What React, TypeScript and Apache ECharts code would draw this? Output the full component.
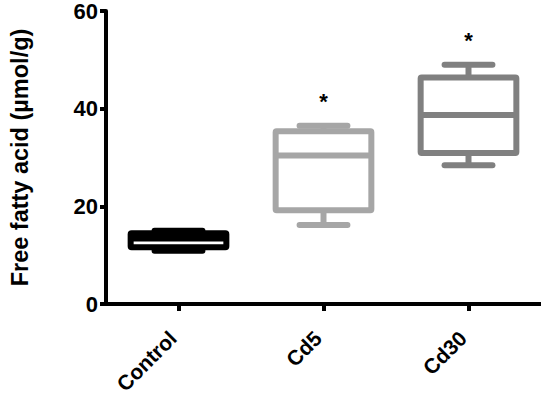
import React, { useEffect, useRef } from "react";
import * as echarts from "echarts";

const categories = ["Control", "Cd5", "Cd30"];
// [min, Q1, median, Q3, max]
const boxMin = [10.9, 16.2, 28.4];
const boxQ1 = [11.6, 19.2, 30.9];
const boxMedian = [13.4, 30.4, 38.7];
const boxQ3 = [14.5, 35.4, 46.4];
const boxMax = [15.0, 36.5, 49.0];
const significance = ["", "*", "*"];
const boxColors = ["#000000", "#a6a6a6", "#808080"];
const yTicks = { min: 0, max: 60, interval: 20 };

const FONT = "'Liberation Sans', Arial, sans-serif";

export default function App() {
  const ref = useRef<HTMLDivElement>(null);
  useEffect(() => {
    if (!ref.current) return;
    const chart = echarts.init(ref.current, null, { renderer: "svg" });
    const data = categories.map((_, i) => [i, boxMin[i], boxQ1[i], boxMedian[i], boxQ3[i], boxMax[i]]);
    chart.setOption({
      animation: false,
      backgroundColor: "#ffffff",
      grid: { left: 98, right: 0, top: 11, bottom: 98 },
      xAxis: {
        type: "category",
        data: categories,
        boundaryGap: true,
        axisLine: { show: true, lineStyle: { color: "#000", width: 4 } },
        axisTick: { show: true, alignWithLabel: true, length: 7, lineStyle: { color: "#000", width: 4 } },
        axisLabel: {
          interval: 0,
          rotate: 45,
          margin: 25,
          padding: [0, 8, 0, 0],
          color: "#000",
          fontFamily: FONT,
          fontWeight: "bold",
          fontSize: 21,
        },
        splitLine: { show: false },
      },
      yAxis: {
        type: "value",
        min: yTicks.min,
        max: yTicks.max,
        interval: yTicks.interval,
        name: "Free fatty acid (µmol/g)",
        nameLocation: "middle",
        nameGap: 74,
        nameRotate: 90,
        nameTextStyle: { color: "#000", fontFamily: FONT, fontWeight: "bold", fontSize: 23.5 },
        axisLine: { show: true, lineStyle: { color: "#000", width: 4 } },
        axisTick: { show: true, length: 6, lineStyle: { color: "#000", width: 4 } },
        axisLabel: { color: "#000", fontFamily: FONT, fontWeight: "bold", fontSize: 22, margin: 8 },
        splitLine: { show: false },
      },
      series: [
        {
          type: "custom",
          data,
          renderItem: (params: any, api: any) => {
            const idx = api.value(0);
            const pMin = api.coord([idx, api.value(1)]);
            const pQ1 = api.coord([idx, api.value(2)]);
            const pMed = api.coord([idx, api.value(3)]);
            const pQ3 = api.coord([idx, api.value(4)]);
            const pMax = api.coord([idx, api.value(5)]);
            const band = api.size([1, 0])[0];
            const bw = band * 0.66;
            const cw = band * 0.33;
            const cx = pMin[0];
            const color = boxColors[params.dataIndex];
            const lw = 6;
            const ls = { stroke: color, lineWidth: lw, lineCap: "round", lineJoin: "round" };
            const children: any[] = [
              { type: "line", shape: { x1: cx, y1: pQ3[1], x2: cx, y2: pMax[1] }, style: { ...ls, lineCap: "butt" } },
              { type: "line", shape: { x1: cx, y1: pQ1[1], x2: cx, y2: pMin[1] }, style: { ...ls, lineCap: "butt" } },
              { type: "line", shape: { x1: cx - cw / 2, y1: pMax[1], x2: cx + cw / 2, y2: pMax[1] }, style: ls },
              { type: "line", shape: { x1: cx - cw / 2, y1: pMin[1], x2: cx + cw / 2, y2: pMin[1] }, style: ls },
              {
                type: "rect",
                shape: { x: cx - bw / 2, y: pQ3[1], width: bw, height: pQ1[1] - pQ3[1], r: 1 },
                style: { fill: "none", stroke: color, lineWidth: lw, lineJoin: "round" },
              },
              { type: "line", shape: { x1: cx - bw / 2, y1: pMed[1], x2: cx + bw / 2, y2: pMed[1] }, style: { ...ls, lineCap: "butt" } },
            ];
            const sig = significance[params.dataIndex];
            if (sig) {
              children.push({
                type: "text",
                x: cx,
                y: pMax[1] - 24,
                style: {
                  text: sig,
                  fill: "#000",
                  font: `bold 22px ${FONT}`,
                  textAlign: "center",
                  textVerticalAlign: "middle",
                },
              });
            }
            return { type: "group", children };
          },
        },
      ],
    });
    return () => chart.dispose();
  }, []);
  return <div ref={ref} style={{ position: "fixed", left: 0, top: 0, width: 541, height: 402 }} />;
}
